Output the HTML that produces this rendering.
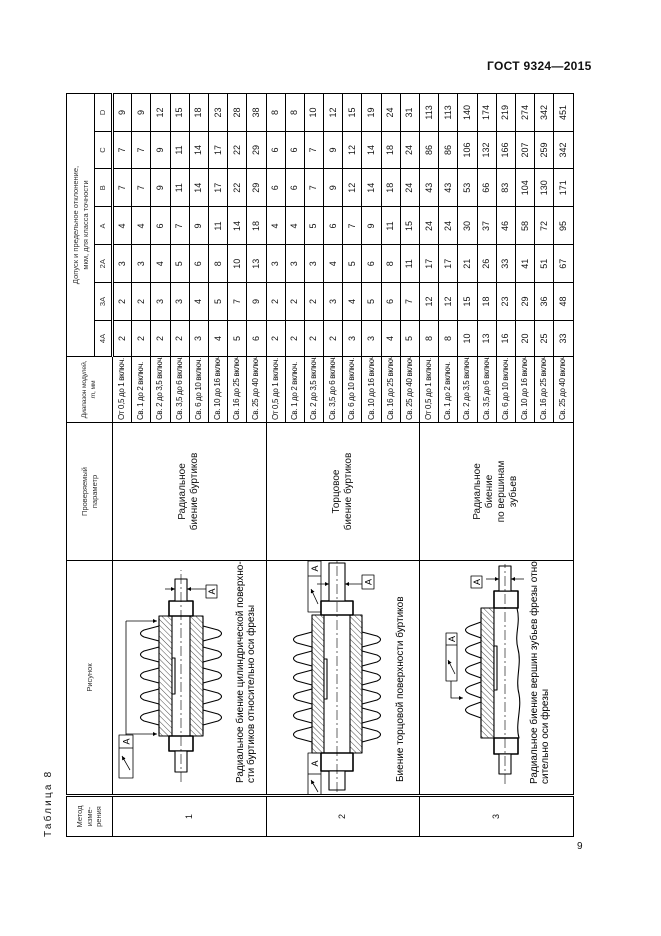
<!DOCTYPE html>
<html><head><meta charset="utf-8">
<style>
html,body{margin:0;padding:0;background:#fff;}
body{width:661px;height:936px;position:relative;overflow:hidden;font-family:"Liberation Sans",sans-serif;color:#111;}
#hdr{position:absolute;left:487px;top:59px;font-size:12px;font-weight:bold;letter-spacing:0.3px;}
#pg{position:absolute;left:577px;top:841px;font-size:10px;}
#rot{position:absolute;left:66px;top:837px;width:743px;height:510px;transform-origin:0 0;transform:rotate(-90deg);}
#cap{position:absolute;left:0;top:-23px;font-size:10px;letter-spacing:2.2px;white-space:nowrap;}
table{border-collapse:collapse;table-layout:fixed;width:743px;}
td{border:1px solid #000;padding:0;text-align:center;vertical-align:middle;font-size:9px;line-height:1;overflow:hidden;}
tr.d{height:19.2px;}
td.r{text-align:left;padding-left:2px;font-size:8px;letter-spacing:-0.35px;white-space:nowrap;}
td.h{font-size:7.5px;color:#333;line-height:1.25;}
td.hr{font-size:6.8px;letter-spacing:-0.2px;}
tr.h2 td{border-bottom:3px double #000;}
td.m{border-right:3px double #000;font-size:9px;}
td.f{vertical-align:top;position:relative;}
td.p{font-size:10px;line-height:1.2;}
td.mh{border-right:3px double #000;}
svg text{font-family:"Liberation Sans",sans-serif;}
</style></head><body>
<div id="hdr">ГОСТ  9324—2015</div>
<div id="pg">9</div>
<div id="rot">
<div id="cap">Таблица 8</div>
<table>
<colgroup><col style="width:41px"><col style="width:235px"><col style="width:138px"><col style="width:66px"><col style="width:36px"><col style="width:38px"><col style="width:37.5px"><col style="width:38px"><col style="width:38.5px"><col style="width:37px"><col style="width:38px"></colgroup>
<tr style="height:28px"><td class="h mh" rowspan="2">Метод<br>изме-<br>рения</td><td class="h" rowspan="2">Рисунок</td><td class="h" rowspan="2">Проверяемый<br>параметр</td><td class="h hr" rowspan="2">Диапазон модулей,<br><i>m</i>, мм</td><td class="h" colspan="7">Допуск и предельное отклонение,<br>мкм, для класса точности</td></tr>
<tr class="h2" style="height:18px"><td class="h">4A</td><td class="h">3A</td><td class="h">2A</td><td class="h">A</td><td class="h">B</td><td class="h">C</td><td class="h">D</td></tr>

<tr class="d"><td class="m" rowspan="8">1</td><td class="f" rowspan="8">
<svg width="235" height="153" viewBox="0 0 235 153" style="position:absolute;left:0;top:0">
<defs><pattern id="h1" width="4" height="4" patternUnits="userSpaceOnUse" patternTransform="rotate(45)"><line x1="0" y1="0" x2="0" y2="4" stroke="#000" stroke-width="0.7"/></pattern>
<marker id="ar" viewBox="0 0 6 6" refX="6" refY="3" markerWidth="5" markerHeight="5" orient="auto"><path d="M0,0 L6,3 L0,6z" fill="#000"/></marker></defs>
<g fill="none" stroke="#000" stroke-width="1.1" stroke-linejoin="round">
<path d="M60,46 L69,46 L73,31 Q76.5,24 80,31 L84,46 L90,46 L94,31 Q97.5,24 101,31 L105,46 L111,46 L115,31 Q118.5,24 122,31 L126,46 L132,46 L136,31 Q139.5,24 143,31 L147,46 L153,46 L157,31 Q160.5,24 164,31 L168,46 L176,46"/>
<path d="M60,90 L69,90 L73,105 Q76.5,112 80,105 L84,90 L90,90 L94,105 Q97.5,112 101,105 L105,90 L111,90 L115,105 Q118.5,112 122,105 L126,90 L132,90 L136,105 Q139.5,112 143,105 L147,90 L153,90 L157,105 Q160.5,112 164,105 L168,90 L176,90"/>
<rect x="58" y="46" width="120" height="44" fill="url(#h1)"/>
<rect x="58" y="59" width="120" height="18" fill="#fff"/>
<rect x="100" y="59" width="36" height="3" fill="#fff"/>
<rect x="43" y="56" width="15" height="24" fill="#fff" stroke-width="1.6"/>
<rect x="178" y="56" width="15" height="24" fill="#fff" stroke-width="1.6"/>
<rect x="22" y="62" width="21" height="12" fill="#fff"/>
<rect x="193" y="62" width="22" height="12" fill="#fff"/>
<line x1="12" y1="68" x2="224" y2="68" stroke-width="0.6" stroke-dasharray="10,3,2,3"/>
<path d="M59,13 H173" stroke-width="0.8"/>
<path d="M60,13 V44" stroke-width="0.8" marker-end="url(#ar)"/>
<path d="M173,13 V44" stroke-width="0.8" marker-end="url(#ar)"/>
<rect x="16" y="6" width="43" height="14" stroke-width="0.8"/>
<line x1="46" y1="6" x2="46" y2="20" stroke-width="0.8"/>
<path d="M24,17 L38,9" stroke-width="0.8" marker-end="url(#ar)"/>
<path d="M193,62 H213 M193,74 H213" stroke-width="0.6"/>
<path d="M205,52 V62" stroke-width="0.8" marker-end="url(#ar)"/>
<path d="M205,93 V74" stroke-width="0.8" marker-end="url(#ar)"/>
<rect x="196" y="93" width="13" height="11" stroke-width="0.8"/>
</g>
<text x="52.5" y="16.5" font-size="9" text-anchor="middle">A</text>
<text x="202.5" y="102" font-size="9" text-anchor="middle">A</text>
<text x="11" y="130" font-size="10">Радиальное биение цилиндрической поверхно-</text>
<text x="11" y="141" font-size="10">сти буртиков относительно оси фрезы</text>
</svg></td><td class="p" rowspan="8">Радиальное<br>биение буртиков</td>
<td class="r">От 0,5 до 1 включ.</td><td>2</td><td>2</td><td>3</td><td>4</td><td>7</td><td>7</td><td>9</td></tr>
<tr class="d"><td class="r">Св. 1 до 2 включ.</td><td>2</td><td>2</td><td>3</td><td>4</td><td>7</td><td>7</td><td>9</td></tr>
<tr class="d"><td class="r">Св. 2 до 3,5 включ.</td><td>2</td><td>3</td><td>4</td><td>6</td><td>9</td><td>9</td><td>12</td></tr>
<tr class="d"><td class="r">Св. 3,5 до 6 включ.</td><td>2</td><td>3</td><td>5</td><td>7</td><td>11</td><td>11</td><td>15</td></tr>
<tr class="d"><td class="r">Св. 6 до 10 включ.</td><td>3</td><td>4</td><td>6</td><td>9</td><td>14</td><td>14</td><td>18</td></tr>
<tr class="d"><td class="r">Св. 10 до 16 включ.</td><td>4</td><td>5</td><td>8</td><td>11</td><td>17</td><td>17</td><td>23</td></tr>
<tr class="d"><td class="r">Св. 16 до 25 включ.</td><td>5</td><td>7</td><td>10</td><td>14</td><td>22</td><td>22</td><td>28</td></tr>
<tr class="d"><td class="r">Св. 25 до 40 включ.</td><td>6</td><td>9</td><td>13</td><td>18</td><td>29</td><td>29</td><td>38</td></tr>

<tr class="d"><td class="m" rowspan="8">2</td><td class="f" rowspan="8">
<svg width="235" height="153" viewBox="0 0 235 153" style="position:absolute;left:0;top:0">
<defs><pattern id="h2" width="4" height="4" patternUnits="userSpaceOnUse" patternTransform="rotate(45)"><line x1="0" y1="0" x2="0" y2="4" stroke="#000" stroke-width="0.7"/></pattern>
<marker id="ar2" viewBox="0 0 6 6" refX="6" refY="3" markerWidth="5" markerHeight="5" orient="auto"><path d="M0,0 L6,3 L0,6z" fill="#000"/></marker></defs>
<g fill="none" stroke="#000" stroke-width="1.1" stroke-linejoin="round">
<path d="M45,45 L52,45 L56,30 Q59.5,23 63,30 L67,45 L71,45 L75,30 Q78.5,23 82,30 L86,45 L90,45 L94,30 Q97.5,23 101,30 L105,45 L109,45 L113,30 Q116.5,23 120,30 L124,45 L128,45 L132,30 Q135.5,23 139,30 L143,45 L147,45 L151,30 Q154.5,23 158,30 L162,45 L172,45"/>
<path d="M45,95 L52,95 L56,110 Q59.5,117 63,110 L67,95 L71,95 L75,110 Q78.5,117 82,110 L86,95 L90,95 L94,110 Q97.5,117 101,110 L105,95 L109,95 L113,110 Q116.5,117 120,110 L124,95 L128,95 L132,110 Q135.5,117 139,110 L143,95 L147,95 L151,110 Q154.5,117 158,110 L162,95 L172,95"/>
<rect x="41" y="45" width="138" height="50" fill="url(#h2)"/>
<rect x="41" y="57" width="138" height="26" fill="#fff"/>
<rect x="95" y="57" width="40" height="3" fill="#fff"/>
<rect x="23" y="54" width="18" height="32" fill="#fff" stroke-width="1.6"/>
<rect x="179" y="54" width="14" height="32" fill="#fff" stroke-width="1.6"/>
<rect x="4" y="62" width="19" height="16" fill="#fff"/>
<rect x="193" y="62" width="38" height="16" fill="#fff"/>
<line x1="2" y1="70" x2="233" y2="70" stroke-width="0.6" stroke-dasharray="10,3,2,3"/>
<rect x="182" y="41" width="51" height="13" stroke-width="0.8"/>
<line x1="218" y1="41" x2="218" y2="54" stroke-width="0.8"/>
<path d="M190,51 L205,44" stroke-width="0.8" marker-end="url(#ar2)"/>
<rect x="-15" y="41" width="56" height="13" stroke-width="0.8"/>
<line x1="20" y1="41" x2="20" y2="54" stroke-width="0.8"/>
<path d="M2,51 L14,44" stroke-width="0.8" marker-end="url(#ar2)"/>
<path d="M193,62 H213 M193,78 H213" stroke-width="0.6"/>
<path d="M210,50 V62" stroke-width="0.8" marker-end="url(#ar2)"/>
<path d="M210,95 V78" stroke-width="0.8" marker-end="url(#ar2)"/>
<rect x="205" y="95" width="14" height="12" stroke-width="0.8"/>
</g>
<text x="225.5" y="51" font-size="9" text-anchor="middle">A</text>
<text x="30.5" y="51" font-size="9" text-anchor="middle">A</text>
<text x="212" y="104.5" font-size="9" text-anchor="middle">A</text>
<text x="12" y="136" font-size="10">Биение торцовой поверхности буртиков</text>
</svg></td><td class="p" rowspan="8">Торцовое<br>биение буртиков</td>
<td class="r">От 0,5 до 1 включ.</td><td>2</td><td>2</td><td>3</td><td>4</td><td>6</td><td>6</td><td>8</td></tr>
<tr class="d"><td class="r">Св. 1 до 2 включ.</td><td>2</td><td>2</td><td>3</td><td>4</td><td>6</td><td>6</td><td>8</td></tr>
<tr class="d"><td class="r">Св. 2 до 3,5 включ.</td><td>2</td><td>2</td><td>3</td><td>5</td><td>7</td><td>7</td><td>10</td></tr>
<tr class="d"><td class="r">Св. 3,5 до 6 включ.</td><td>2</td><td>3</td><td>4</td><td>6</td><td>9</td><td>9</td><td>12</td></tr>
<tr class="d"><td class="r">Св. 6 до 10 включ.</td><td>3</td><td>4</td><td>5</td><td>7</td><td>12</td><td>12</td><td>15</td></tr>
<tr class="d"><td class="r">Св. 10 до 16 включ.</td><td>3</td><td>5</td><td>6</td><td>9</td><td>14</td><td>14</td><td>19</td></tr>
<tr class="d"><td class="r">Св. 16 до 25 включ.</td><td>4</td><td>6</td><td>8</td><td>11</td><td>18</td><td>18</td><td>24</td></tr>
<tr class="d"><td class="r">Св. 25 до 40 включ.</td><td>5</td><td>7</td><td>11</td><td>15</td><td>24</td><td>24</td><td>31</td></tr>

<tr class="d"><td class="m" rowspan="8">3</td><td class="f" rowspan="8">
<svg width="235" height="153" viewBox="0 0 235 153" style="position:absolute;left:0;top:0">
<defs><pattern id="h3" width="4" height="4" patternUnits="userSpaceOnUse" patternTransform="rotate(45)"><line x1="0" y1="0" x2="0" y2="4" stroke="#000" stroke-width="0.7"/></pattern>
<marker id="ar3" viewBox="0 0 6 6" refX="6" refY="3" markerWidth="5" markerHeight="5" orient="auto"><path d="M0,0 L6,3 L0,6z" fill="#000"/></marker></defs>
<g fill="none" stroke="#000" stroke-width="1.1" stroke-linejoin="round">
<path d="M62,61 L76,61 L80,50 Q84,41 88,50 L92,61 L96,61 L100,50 Q104,41 108,50 L112,61 L116,61 L120,50 Q124,41 128,50 L132,61 L136,61 L140,50 Q144,41 148,50 L152,61 L156,61 L160,50 Q164,41 168,50 L172,61 L180,61"/>
<rect x="56" y="61" width="130" height="13" fill="url(#h3)"/>
<path d="M56,74 L186,74 L186,97 C170,101 160,94 145,98 C130,102 115,95 100,99 C85,102 70,95 56,99 Z" fill="#fff"/>
<rect x="104" y="74" width="44" height="3" fill="#fff"/>
<rect x="40" y="74" width="16" height="24" fill="#fff" stroke-width="1.6"/>
<rect x="186" y="74" width="17" height="24" fill="#fff" stroke-width="1.6"/>
<rect x="20" y="79" width="20" height="12" fill="#fff"/>
<rect x="203" y="79" width="25" height="12" fill="#fff"/>
<line x1="10" y1="85" x2="230" y2="85" stroke-width="0.6" stroke-dasharray="10,3,2,3"/>
<rect x="113" y="26" width="48" height="11" stroke-width="0.8"/>
<line x1="149" y1="26" x2="149" y2="37" stroke-width="0.8"/>
<path d="M120,35 L134,28" stroke-width="0.8" marker-end="url(#ar3)"/>
<path d="M113,31 H96 V43" stroke-width="0.8" marker-end="url(#ar3)"/>
<path d="M203,79 H222 M203,91 H222" stroke-width="0.6"/>
<path d="M215,66 V79" stroke-width="0.8" marker-end="url(#ar3)"/>
<path d="M215,104 V91" stroke-width="0.8" marker-end="url(#ar3)"/>
<rect x="206" y="51" width="12" height="11" stroke-width="0.8"/>
</g>
<text x="155" y="35" font-size="9" text-anchor="middle">A</text>
<text x="212" y="60" font-size="9" text-anchor="middle">A</text>
<text x="10" y="117" font-size="10">Радиальное биение вершин зубьев фрезы отно-</text>
<text x="10" y="128" font-size="10">сительно оси фрезы</text>
</svg></td><td class="p" rowspan="8">Радиальное<br>биение<br>по вершинам<br>зубьев</td>
<td class="r">От 0,5 до 1 включ.</td><td>8</td><td>12</td><td>17</td><td>24</td><td>43</td><td>86</td><td>113</td></tr>
<tr class="d"><td class="r">Св. 1 до 2 включ.</td><td>8</td><td>12</td><td>17</td><td>24</td><td>43</td><td>86</td><td>113</td></tr>
<tr class="d"><td class="r">Св. 2 до 3,5 включ.</td><td>10</td><td>15</td><td>21</td><td>30</td><td>53</td><td>106</td><td>140</td></tr>
<tr class="d"><td class="r">Св. 3,5 до 6 включ.</td><td>13</td><td>18</td><td>26</td><td>37</td><td>66</td><td>132</td><td>174</td></tr>
<tr class="d"><td class="r">Св. 6 до 10 включ.</td><td>16</td><td>23</td><td>33</td><td>46</td><td>83</td><td>166</td><td>219</td></tr>
<tr class="d"><td class="r">Св. 10 до 16 включ.</td><td>20</td><td>29</td><td>41</td><td>58</td><td>104</td><td>207</td><td>274</td></tr>
<tr class="d"><td class="r">Св. 16 до 25 включ.</td><td>25</td><td>36</td><td>51</td><td>72</td><td>130</td><td>259</td><td>342</td></tr>
<tr class="d"><td class="r">Св. 25 до 40 включ.</td><td>33</td><td>48</td><td>67</td><td>95</td><td>171</td><td>342</td><td>451</td></tr>
</table>
</div>
</body></html>
